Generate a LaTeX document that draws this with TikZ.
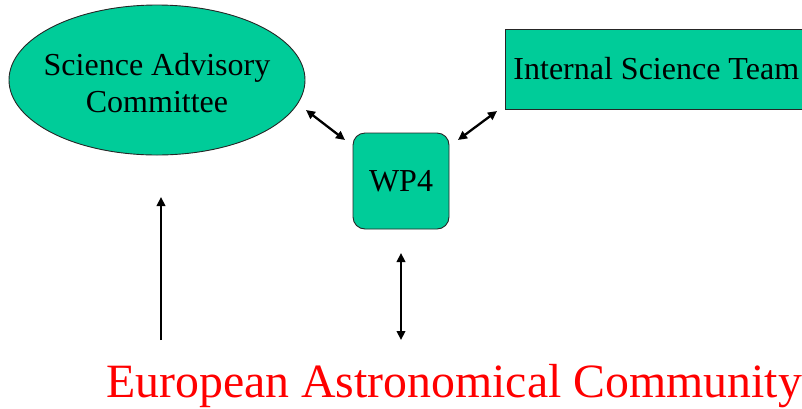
\documentclass[tikz,border=0pt]{standalone}
\usepackage{fontspec}
\setmainfont{Liberation Serif}
\usetikzlibrary{shapes.geometric,arrows.meta}
\definecolor{boxgreen}{RGB}{0,204,153}
\begin{document}
\begin{tikzpicture}[x=1pt,y=-1pt,
  shapebox/.style={draw=black!85, line width=0.9pt, fill=boxgreen},
  lbl/.style={font=\fontsize{32}{37}\selectfont, align=center, inner sep=0pt},
  link/.style={line width=2.3pt, {Triangle[length=9pt,width=8.5pt]}-{Triangle[length=9pt,width=8.5pt]}},
  uplink/.style={line width=2.3pt, -{Triangle[length=9pt,width=8.5pt]}}]
\useasboundingbox (0,0) rectangle (802,408);
% nodes
\node[shapebox, ellipse, minimum width=296pt, minimum height=150pt, inner sep=0pt] (sac) at (157,80) {};
\node[lbl] (sactext) at (157,83) {Science Advisory\\Committee};
\node[shapebox, rectangle, anchor=west, minimum height=80pt, inner xsep=8pt, font=\fontsize{32}{37}\selectfont] (ist) at (505,69) {Internal Science Team};
\node[shapebox, rectangle, rounded corners=12pt, minimum width=96pt, minimum height=96pt, inner sep=0pt, font=\fontsize{32}{37}\selectfont] (wp) at (401,181) {WP4};
\node[anchor=base west, inner sep=0pt, text=red, font=\fontsize{47.8}{52}\selectfont] (eac) at (106,397) {European Astronomical Community};
% connector end points
\coordinate (a1) at (306,110);
\coordinate (a2) at (345,140);
\coordinate (b1) at (497,111);
\coordinate (b2) at (458,140);
\coordinate (c1) at (401,253);
\coordinate (c2) at (401,340);
\coordinate (d1) at (161,340);
\coordinate (d2) at (161,197);
% connectors
\draw[link] (a1) -- (a2);
\draw[link] (b1) -- (b2);
\draw[link] (c1) -- (c2);
\draw[uplink] (d1) -- (d2);
\end{tikzpicture}
\end{document}
